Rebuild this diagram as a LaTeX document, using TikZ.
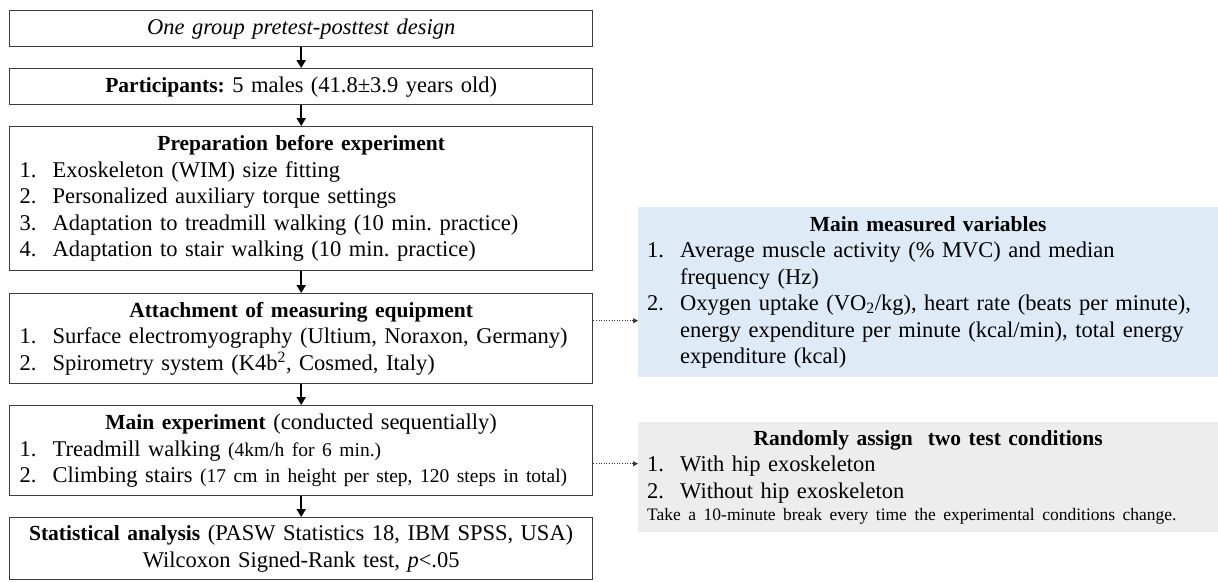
\documentclass[tikz,border=0pt]{standalone}
\usepackage{fontspec}
\setmainfont{Liberation Serif}
\usetikzlibrary{arrows.meta}
\definecolor{bxline}{HTML}{3C3C3C}
\definecolor{bluefill}{HTML}{DEEAF6}
\definecolor{grayfill}{HTML}{EDEDED}
\newcommand\mainfs{\fontsize{22.5}{26.5}\selectfont}
\newcommand\boldfs{\fontsize{21.5}{26.5}\selectfont}
\newcommand\smallfs{\fontsize{19.5}{26.5}\selectfont}
\newcommand\notefs{\fontsize{17.5}{22}\selectfont}
\newcommand\itm[2]{\makebox[33pt][l]{#1}#2}
\newcommand\hang[1]{\hspace*{33pt}#1}
\newcommand\hd[1]{\makebox[\linewidth][c]{#1}}
\newcommand\bh[1]{{\boldfs\textbf{#1}}}
\frenchspacing
\tikzset{
  flowbox/.style={draw=bxline, line width=1.4pt, fill=white, anchor=north west,
    minimum width=583pt, text width=563pt, inner xsep=10pt, inner ysep=0pt,
    font=\mainfs},
  sidebox/.style={anchor=north west, minimum width=580pt, text width=562pt,
    inner xsep=9pt, inner ysep=0pt, align=left, font=\mainfs},
  flowarrow/.style={-{Triangle[length=8pt,width=9pt]}, line width=2pt, black},
  dotarrow/.style={-{Triangle[length=5pt,width=5pt]}, line width=0.6pt, dotted, black!80}
}
\begin{document}
\begin{tikzpicture}[x=1pt,y=-1pt]
\useasboundingbox (0,0) rectangle (1218,581);

\node[flowbox, align=center, minimum height=36pt] (b1) at (9,10)
  {\textit{One group pretest-posttest design}};
\node[flowbox, align=center, minimum height=36pt] (b2) at (9,68)
  {\bh{Participants:} 5 males (41.8±3.9 years old)};
\node[flowbox, align=left, minimum height=144pt] (b3) at (9,126)
  {\hd{\bh{Preparation before experiment}}\\
   \itm{1.}{Exoskeleton (WIM) size fitting}\\
   \itm{2.}{Personalized auxiliary torque settings}\\
   \itm{3.}{Adaptation to treadmill walking (10 min. practice)}\\
   \itm{4.}{Adaptation to stair walking (10 min. practice)}};
\node[flowbox, align=left, minimum height=90pt] (b4) at (9,293)
  {\hd{\bh{Attachment of measuring equipment}}\\
   \itm{1.}{Surface electromyography (Ultium, Noraxon, Germany)}\\
   \itm{2.}{Spirometry system (K4b\textsuperscript{2}, Cosmed, Italy)}};
\node[flowbox, align=left, minimum height=90pt] (b5) at (9,405)
  {\hd{\bh{Main experiment} (conducted sequentially)}\\
   \itm{1.}{Treadmill walking {\smallfs(4km/h for 6 min.)}}\\
   \itm{2.}{Climbing stairs {\smallfs(17 cm in height per step, 120 steps in total)}}};
\node[flowbox, align=center, minimum height=62pt] (b6) at (9,517)
  {\bh{Statistical analysis} (PASW Statistics 18, IBM SPSS, USA)\\
   Wilcoxon Signed-Rank test, \textit{p}<.05};

\node[sidebox, fill=bluefill, minimum height=170pt] (mv) at (638,207)
  {\hd{\bh{Main measured variables}}\\
   \itm{1.}{Average muscle activity (\% MVC) and median}\\
   \hang{frequency (Hz)}\\
   \itm{2.}{Oxygen uptake (VO\textsubscript{2}/kg), heart rate (beats per minute),}\\
   \hang{energy expenditure per minute (kcal/min), total energy}\\
   \hang{expenditure (kcal)}};
\node[sidebox, fill=grayfill, minimum height=110pt] (tc) at (638,422)
  {\hd{\bh{Randomly assign\ \ two test conditions}}\\
   \itm{1.}{With hip exoskeleton}\\
   \itm{2.}{Without hip exoskeleton}\\[-4pt]
   {\notefs Take a 10-minute break every time the experimental conditions change.}};

\draw[flowarrow] (b1.south) -- (b2.north);
\draw[flowarrow] (b2.south) -- (b3.north);
\draw[flowarrow] (b3.south) -- (b4.north);
\draw[flowarrow] (b4.south) -- (b5.north);
\draw[flowarrow] (b5.south) -- (b6.north);

\coordinate (a4) at ([yshift=18pt]b4.east);
\coordinate (a5) at ([yshift=-13pt]b5.east);
\draw[dotarrow] (a4) -- (a4 -| mv.west);
\draw[dotarrow] (a5) -- (a5 -| tc.west);
\end{tikzpicture}
\end{document}
